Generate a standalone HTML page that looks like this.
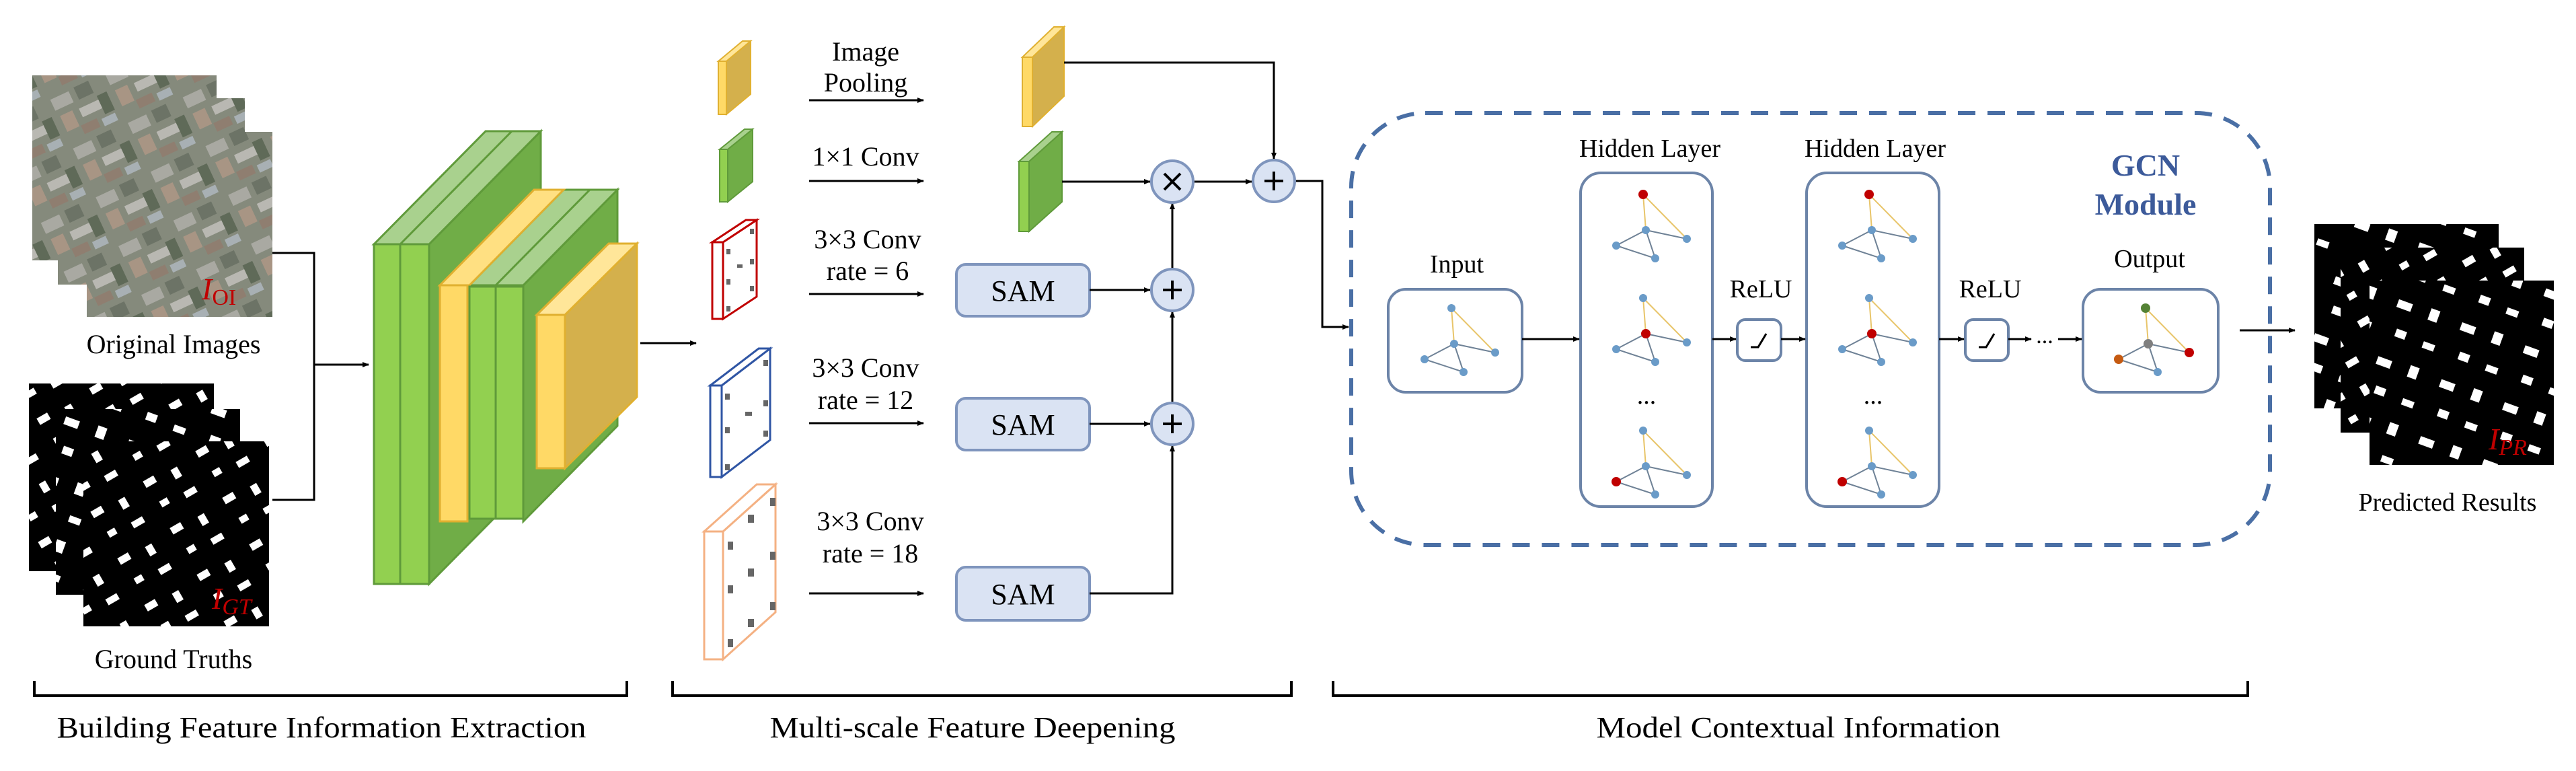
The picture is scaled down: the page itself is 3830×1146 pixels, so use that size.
<!DOCTYPE html>
<html><head><meta charset="utf-8"><style>html,body{margin:0;padding:0;background:#fff}svg{display:block}svg text{font-family:"Liberation Serif","Times New Roman",Tinos,"DejaVu Serif","Noto Serif CJK SC",serif}</style></head><body>
<svg width="3830" height="1146" viewBox="0 0 3830 1146" xmlns="http://www.w3.org/2000/svg">
<defs>
<marker id="ah" markerWidth="10" markerHeight="10" refX="9" refY="5" orient="auto" markerUnits="userSpaceOnUse"><path d="M0,1 L10,5 L0,9 z" fill="#000"/></marker>
<pattern id="sat" width="90" height="80" patternUnits="userSpaceOnUse" patternTransform="rotate(-25)">
<rect width="90" height="80" fill="#858a7c"/>
<rect x="5" y="6" width="30" height="18" fill="#a9a9a2"/><rect x="44" y="4" width="24" height="20" fill="#6c7366"/>
<rect x="8" y="34" width="20" height="26" fill="#a89584"/><rect x="38" y="36" width="34" height="14" fill="#b9b8b2"/>
<rect x="70" y="30" width="16" height="30" fill="#5f6a58"/><rect x="30" y="60" width="26" height="14" fill="#8f7e70"/>
<rect x="62" y="64" width="22" height="12" fill="#a8b0b4"/>
</pattern>
<pattern id="mask" width="90" height="80" patternUnits="userSpaceOnUse" patternTransform="rotate(-30)">
<rect width="90" height="80" fill="#000"/>
<rect x="6" y="6" width="18" height="11" fill="#fff"/><rect x="50" y="12" width="11" height="16" fill="#fff"/>
<rect x="12" y="44" width="13" height="10" fill="#fff"/><rect x="50" y="50" width="19" height="10" fill="#fff"/>
</pattern>
<pattern id="mask2" width="100" height="90" patternUnits="userSpaceOnUse" patternTransform="rotate(20)">
<rect width="100" height="90" fill="#000"/>
<rect x="4" y="8" width="22" height="12" fill="#fff"/><rect x="54" y="4" width="14" height="18" fill="#fff"/>
<rect x="16" y="50" width="16" height="12" fill="#fff"/><rect x="60" y="54" width="18" height="10" fill="#fff"/>
</pattern>
<g id="graph">
<line x1="0" y1="0" x2="4" y2="53" stroke="#e8c56a" stroke-width="2"/>
<line x1="0" y1="0" x2="65" y2="66" stroke="#e8c56a" stroke-width="2"/>
<line x1="4" y1="53" x2="-40" y2="76" stroke="#6f8296" stroke-width="2"/>
<line x1="4" y1="53" x2="65" y2="66" stroke="#6f8296" stroke-width="2"/>
<line x1="-40" y1="76" x2="18" y2="95" stroke="#6f8296" stroke-width="2"/>
<line x1="4" y1="53" x2="18" y2="95" stroke="#6f8296" stroke-width="2"/>
<circle cx="0" cy="0" r="6" fill="#6a9bc8"/>
<circle cx="4" cy="53" r="6" fill="#6a9bc8"/><circle cx="65" cy="66" r="6" fill="#6a9bc8"/>
<circle cx="-40" cy="76" r="6" fill="#6a9bc8"/><circle cx="18" cy="95" r="6" fill="#6a9bc8"/>
</g>
</defs>

<rect x="48" y="112" width="274" height="275" fill="url(#sat)"/>
<rect x="86" y="146" width="278" height="277" fill="url(#sat)"/>
<rect x="129" y="196" width="276" height="275" fill="url(#sat)"/>
<text x="300" y="445" font-size="46" fill="#c00000" font-style="italic">I<tspan font-size="34" font-style="normal" dy="8">OI</tspan></text>
<text x="258" y="525" font-size="40" text-anchor="middle">Original Images</text>
<rect x="43" y="570" width="275" height="279" fill="url(#mask)"/>
<rect x="83" y="608" width="274" height="276" fill="url(#mask2)"/>
<rect x="124" y="656" width="276" height="275" fill="url(#mask)"/>
<text x="315" y="905" font-size="46" fill="#c00000" font-style="italic">I<tspan font-size="34" dy="8">GT</tspan></text>
<text x="258" y="993" font-size="40" text-anchor="middle">Ground Truths</text>

<path d="M405,376 H467 V743 H405" fill="none" stroke="#000" stroke-width="3"/>
<line x1="467" y1="542" x2="548" y2="542" stroke="#000" stroke-width="3" marker-end="url(#ah)"/>

<g stroke="#5f9a3a" stroke-width="3">
<polygon points="638,363 804,195 804,700 638,868" fill="#70ad47"/>
<polygon points="556,363 722,195 804,195 638,363" fill="#a9d18e"/>
<line x1="595" y1="363" x2="761" y2="195"/>
<rect x="556" y="363" width="39" height="505" fill="#92d050"/>
<rect x="595" y="363" width="43" height="505" fill="#92d050"/>
</g>
<g stroke="#5f9a3a" stroke-width="3">
<polygon points="778,424 918,282 918,633 778,775" fill="#70ad47"/>
<polygon points="698,424 838,282 918,282 778,424" fill="#a9d18e"/>
<polygon points="654,424 794,282 838,282 698,424" fill="#ffe082" stroke="#e0b030"/>
<line x1="737" y1="424" x2="877" y2="282"/>
<rect x="654" y="424" width="41" height="351" fill="#ffd966" stroke="#e0b030"/>
<rect x="698" y="426" width="39" height="345" fill="#92d050"/>
<rect x="737" y="426" width="41" height="345" fill="#92d050"/>
</g>
<g stroke="#e0b030" stroke-width="3">
<polygon points="840,468 947,362 947,590 840,696" fill="#d4b04c"/>
<polygon points="798,468 905,362 947,362 840,468" fill="#ffe699"/>
<rect x="798" y="468" width="42" height="228" fill="#ffd966"/>
</g>
<line x1="952" y1="510" x2="1035" y2="510" stroke="#000" stroke-width="3" marker-end="url(#ah)"/>

<g fill="none" stroke="#000" stroke-width="4">
<path d="M51,1012 V1034 H932 V1012"/>
<path d="M1000,1012 V1034 H1920 V1012"/>
<path d="M1982,1012 V1034 H3342 V1012"/>
</g>
<text x="478" y="1096" font-size="44" text-anchor="middle" textLength="787" lengthAdjust="spacingAndGlyphs">Building Feature Information Extraction</text>
<text x="1446" y="1096" font-size="44" text-anchor="middle" textLength="603" lengthAdjust="spacingAndGlyphs">Multi-scale Feature Deepening</text>
<text x="2674" y="1096" font-size="44" text-anchor="middle" textLength="601" lengthAdjust="spacingAndGlyphs">Model Contextual Information</text>

<g stroke="#e0b030" stroke-width="2">
<polygon points="1080,91 1116,61 1116,140 1080,170" fill="#d4b04c"/>
<polygon points="1068,91 1104,61 1116,61 1080,91" fill="#ffe699"/>
<rect x="1068" y="91" width="12" height="79" fill="#ffd966"/>
</g>
<g stroke="#5f9a3a" stroke-width="2">
<polygon points="1082,222 1119,192 1119,270 1082,300" fill="#70ad47"/>
<polygon points="1070,222 1107,192 1119,192 1082,222" fill="#a9d18e"/>
<rect x="1070" y="222" width="12" height="78" fill="#92d050"/>
</g>
<g fill="#fff" stroke-width="3">
<g stroke="#c00000"><polygon points="1075,360 1125,327 1125,441 1075,474"/><polygon points="1059,360 1109,327 1125,327 1075,360"/><rect x="1059" y="360" width="16" height="114"/></g>
<g stroke="#2f55a4"><polygon points="1073,573 1145,518 1145,654 1073,709"/><polygon points="1056,573 1128,518 1145,518 1073,573"/><rect x="1056" y="573" width="17" height="136"/></g>
<g stroke="#f4b183"><polygon points="1075,790 1153,720 1153,910 1075,980"/><polygon points="1047,790 1125,720 1153,720 1075,790"/><rect x="1047" y="790" width="28" height="190"/></g>
</g>
<g fill="#666">
<rect x="1080" y="370" width="6" height="8"/><rect x="1115" y="340" width="6" height="8"/><rect x="1096" y="393" width="8" height="5"/><rect x="1080" y="415" width="6" height="8"/><rect x="1115" y="385" width="6" height="8"/><rect x="1080" y="455" width="6" height="8"/><rect x="1115" y="425" width="6" height="8"/>
<rect x="1078" y="585" width="7" height="9"/><rect x="1135" y="535" width="7" height="9"/><rect x="1108" y="612" width="10" height="6"/><rect x="1078" y="635" width="7" height="9"/><rect x="1135" y="595" width="7" height="9"/><rect x="1078" y="690" width="7" height="9"/><rect x="1135" y="640" width="7" height="9"/>
<rect x="1082" y="805" width="8" height="12"/><rect x="1145" y="740" width="8" height="12"/><rect x="1112" y="765" width="9" height="12"/><rect x="1082" y="870" width="8" height="12"/><rect x="1145" y="820" width="8" height="12"/><rect x="1112" y="845" width="9" height="12"/><rect x="1082" y="950" width="8" height="12"/><rect x="1145" y="895" width="8" height="12"/><rect x="1112" y="920" width="9" height="12"/>
</g>

<g font-size="40" text-anchor="middle">
<text x="1287" y="90">Image</text><text x="1287" y="136">Pooling</text>
<text x="1287" y="246">1×1 Conv</text>
<text x="1290" y="369">3×3 Conv</text><text x="1290" y="416">rate = 6</text>
<text x="1287" y="560">3×3 Conv</text><text x="1287" y="608">rate = 12</text>
<text x="1294" y="788">3×3 Conv</text><text x="1294" y="836">rate = 18</text>
</g>
<g stroke="#000" stroke-width="3" marker-end="url(#ah)">
<line x1="1203" y1="149" x2="1373" y2="149"/><line x1="1203" y1="269" x2="1373" y2="269"/>
<line x1="1203" y1="437" x2="1373" y2="437"/><line x1="1203" y1="629" x2="1373" y2="629"/>
<line x1="1203" y1="882" x2="1373" y2="882"/>
</g>
<g stroke="#e0b030" stroke-width="2">
<polygon points="1535,85 1582,40 1582,143 1535,188" fill="#d4b04c"/>
<polygon points="1520,85 1567,40 1582,40 1535,85" fill="#ffe699"/>
<rect x="1520" y="85" width="15" height="103" fill="#ffd966"/>
</g>
<g stroke="#5f9a3a" stroke-width="2">
<polygon points="1530,240 1579,196 1579,300 1530,344" fill="#70ad47"/>
<polygon points="1515,240 1564,196 1579,196 1530,240" fill="#a9d18e"/>
<rect x="1515" y="240" width="15" height="104" fill="#92d050"/>
</g>
<g fill="#dae3f3" stroke="#7f95bd" stroke-width="4">
<rect x="1422" y="393" width="198" height="77" rx="14"/><rect x="1422" y="592" width="198" height="77" rx="14"/><rect x="1422" y="843" width="198" height="79" rx="14"/>
</g>
<g font-size="44" text-anchor="middle"><text x="1521" y="447">SAM</text><text x="1521" y="646">SAM</text><text x="1521" y="898">SAM</text></g>
<g stroke="#000" stroke-width="3" fill="none">
<path d="M1582,93 H1894 V236" marker-end="url(#ah)"/>
<line x1="1579" y1="270" x2="1710" y2="270" marker-end="url(#ah)"/>
<line x1="1775" y1="270" x2="1861" y2="270" marker-end="url(#ah)"/>
<line x1="1620" y1="431" x2="1710" y2="431" marker-end="url(#ah)"/>
<line x1="1620" y1="630" x2="1710" y2="630" marker-end="url(#ah)"/>
<line x1="1743" y1="599" x2="1743" y2="463" marker-end="url(#ah)"/>
<line x1="1743" y1="400" x2="1743" y2="302" marker-end="url(#ah)"/>
<path d="M1620,882 H1743 V662" marker-end="url(#ah)"/>
<path d="M1926,269 H1966 V486 H2005" marker-end="url(#ah)"/>
</g>
<g fill="#dae3f3" stroke="#7f95bd" stroke-width="4">
<circle cx="1743" cy="270" r="31"/><circle cx="1743" cy="431" r="31"/><circle cx="1743" cy="630" r="31"/><circle cx="1894" cy="269" r="31"/>
</g>
<g stroke="#000" stroke-width="4">
<path d="M1731,258 L1755,282 M1755,258 L1731,282"/>
<path d="M1743,417 V445 M1729,431 H1757"/>
<path d="M1743,616 V644 M1729,630 H1757"/>
<path d="M1894,255 V283 M1880,269 H1908"/>
</g>

<rect x="2009" y="168" width="1366" height="642" rx="110" fill="none" stroke="#4a6fa5" stroke-width="6" stroke-dasharray="26 18"/>
<g fill="#fff" stroke="#6c84a8" stroke-width="4">
<rect x="2064" y="430" width="199" height="153" rx="26"/>
<rect x="2350" y="257" width="196" height="496" rx="30"/>
<rect x="2686" y="257" width="197" height="496" rx="30"/>
<rect x="2583" y="475" width="65" height="61" rx="12"/>
<rect x="2922" y="475" width="64" height="61" rx="12"/>
<rect x="3097" y="430" width="201" height="153" rx="26"/>
</g>
<g font-size="38" text-anchor="middle">
<text x="2166" y="405">Input</text>
<text x="2453" y="233">Hidden Layer</text>
<text x="2788" y="233">Hidden Layer</text>
<text x="2618" y="442">ReLU</text>
<text x="2959" y="442">ReLU</text>
<text x="3196" y="397">Output</text>
<text x="2448" y="600">...</text><text x="2785" y="600">...</text>
<text x="3639" y="759">Predicted Results</text>
</g>
<g font-size="46" font-weight="bold" fill="#3c5a9a" text-anchor="middle">
<text x="3190" y="261">GCN</text><text x="3190" y="319">Module</text>
</g>
<g stroke="#000" stroke-width="3" fill="none">
<path d="M2603,516 H2614 L2626,496"/><path d="M2942,516 H2953 L2965,496"/>
</g>
<g stroke="#000" stroke-width="3" marker-end="url(#ah)">
<line x1="2263" y1="504" x2="2348" y2="504"/>
<line x1="2546" y1="504" x2="2581" y2="504"/>
<line x1="2648" y1="504" x2="2684" y2="504"/>
<line x1="2883" y1="504" x2="2920" y2="504"/>
<line x1="2986" y1="504" x2="3020" y2="504"/>
<line x1="3060" y1="504" x2="3095" y2="504"/>
<line x1="3330" y1="491" x2="3412" y2="491"/>
</g>
<text x="3040" y="510" font-size="34" text-anchor="middle">...</text>
<use href="#graph" x="2158" y="458"/>
<use href="#graph" x="2443" y="289"/><use href="#graph" x="2443" y="443"/><use href="#graph" x="2443" y="640"/>
<use href="#graph" x="2779" y="289"/><use href="#graph" x="2779" y="443"/><use href="#graph" x="2779" y="640"/>
<use href="#graph" x="3190" y="458"/>
<circle cx="2443" cy="289" r="7" fill="#c00000"/><circle cx="2779" cy="289" r="7" fill="#c00000"/>
<circle cx="2447" cy="496" r="7" fill="#c00000"/><circle cx="2783" cy="496" r="7" fill="#c00000"/>
<circle cx="2403" cy="716" r="7" fill="#c00000"/><circle cx="2739" cy="716" r="7" fill="#c00000"/>
<circle cx="3190" cy="458" r="7" fill="#548235"/><circle cx="3194" cy="511" r="7" fill="#7f7f7f"/><circle cx="3255" cy="524" r="7" fill="#c00000"/><circle cx="3150" cy="534" r="7" fill="#c55a11"/>
<rect x="3441" y="333" width="274" height="274" fill="url(#mask2)"/>
<rect x="3480" y="368" width="273" height="275" fill="url(#mask)"/>
<rect x="3523" y="417" width="274" height="274" fill="url(#mask2)"/>
<text x="3700" y="668" font-size="46" fill="#c00000" font-style="italic">I<tspan font-size="34" dy="8">PR</tspan></text>
</svg>
</body></html>
